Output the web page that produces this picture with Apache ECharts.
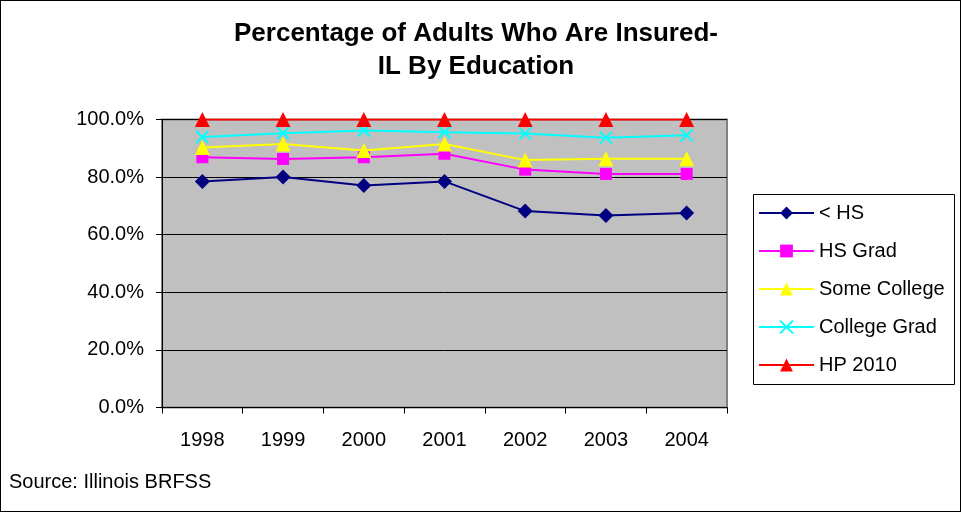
<!DOCTYPE html>
<html>
<head>
<meta charset="utf-8">
<script src="https://cdn.jsdelivr.net/npm/echarts@6/dist/echarts.min.js"></script>
<style>
  html, body { margin: 0; padding: 0; background: #fff; }
  #chart { width: 961px; height: 512px; box-sizing: border-box; border: 1px solid #000; }
</style>
</head>
<body>
<div id="chart"></div>
<script>
const years = ["1998", "1999", "2000", "2001", "2002", "2003", "2004"];
const lessHS = [78.5, 80.0, 77.1, 78.5, 68.2, 66.7, 67.5];
const hsGrad = [86.9, 86.3, 86.9, 88.1, 82.6, 81.1, 81.1];
const someCollege = [90.3, 91.5, 89.2, 91.5, 85.9, 86.4, 86.4];
const collegeGrad = [93.9, 95.2, 96.2, 95.6, 95.1, 93.7, 94.5];
const hp2010 = [100, 100, 100, 100, 100, 100, 100];

const font = "Arial, 'Liberation Sans', sans-serif";
const xMark = "path://M0,0 L10,10 M10,0 L0,10";

function line(name, data, color, symbol, size, extra) {
  return Object.assign({
    name: name,
    type: "line",
    data: data,
    symbol: symbol,
    symbolSize: size,
    showAllSymbol: true,
    lineStyle: { color: color, width: 2 },
    itemStyle: { color: color },
    emphasis: { disabled: true },
    animation: false
  }, extra || {});
}

const chart = echarts.init(document.getElementById("chart"));
chart.setOption({
  backgroundColor: "#fff",
  title: {
    text: "Percentage of Adults Who Are Insured-\nIL By Education",
    left: 470,
    textAlign: "center",
    top: 11,
    textStyle: { fontFamily: font, fontSize: 26, fontWeight: "bold", color: "#000", lineHeight: 33 }
  },
  graphic: [{
    type: "rect",
    left: 752,
    top: 193,
    shape: { width: 201, height: 190 },
    style: { fill: "#fff", stroke: "#000", lineWidth: 1 },
    z: -1
  }, {
    type: "text",
    left: 8,
    top: 471,
    style: { text: "Source: Illinois BRFSS", font: "20px " + font, fill: "#000" }
  }],
  legend: {
    orient: "vertical",
    left: 752,
    top: 193,
    padding: [9, 5, 9, 5],
    itemGap: 18,
    itemWidth: 55,
    itemHeight: 16,
    textStyle: { fontFamily: font, fontSize: 20, lineHeight: 20, color: "#000" },
    data: ["< HS", "HS Grad", "Some College", "College Grad", "HP 2010"]
  },
  grid: {
    left: 161, right: 233, top: 118.5, bottom: 103.5,
    show: true, backgroundColor: "#C0C0C0", borderColor: "#808080", borderWidth: 2
  },
  xAxis: {
    type: "category",
    data: years,
    boundaryGap: true,
    axisLine: { lineStyle: { color: "#000", width: 1 } },
    axisTick: { show: true, length: 6, lineStyle: { color: "#000" } },
    axisLabel: { fontFamily: font, fontSize: 20, color: "#000", margin: 23 }
  },
  yAxis: {
    type: "value",
    min: 0,
    max: 100,
    interval: 20,
    axisLine: { show: true, lineStyle: { color: "#000", width: 1 } },
    axisTick: { show: true, length: 6, lineStyle: { color: "#000" } },
    splitLine: { lineStyle: { color: "#000", width: 1 } },
    axisLabel: { fontFamily: font, fontSize: 20, color: "#000", margin: 18,
      formatter: v => v.toFixed(1) + "%" }
  },
  series: [
    line("< HS", lessHS, "#000080", "diamond", 15),
    line("HS Grad", hsGrad, "#FF00FF", "rect", 12),
    line("Some College", someCollege, "#FFFF00", "triangle", 15),
    line("College Grad", collegeGrad, "#00FFFF", xMark, 12,
      { itemStyle: { color: "none", borderColor: "#00FFFF", borderWidth: 2 } }),
    line("HP 2010", hp2010, "#FF0000", "triangle", 15)
  ]
});
</script>
</body>
</html>
